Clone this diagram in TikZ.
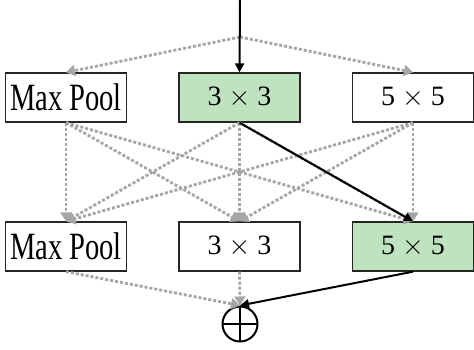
\RequirePackage{fix-cm}
\documentclass[tikz,border=0pt]{standalone}
\usepackage{fontspec}
\setmainfont{Liberation Serif}
\usetikzlibrary{arrows.meta}
\newcommand{\poolname}{\raisebox{-4pt}{\scalebox{1.02}[1.38]{Max Pool}}}
\begin{document}
\begin{tikzpicture}[x=1pt,y=-1pt,
  op/.style={draw=black!85,line width=1.3pt,minimum width=121pt,minimum height=49pt,
    inner sep=0pt,font=\fontsize{28}{28}\selectfont},
  chosen/.style={op,fill=green!55!black!25!white},
  cand/.style={draw=black!35,line width=2.8pt,dash pattern=on 3pt off 2pt,
    -{Triangle[length=9pt,width=11pt,fill=black!35]}},
  path/.style={draw=black,line width=2pt,-{Triangle[length=9pt,width=9pt]}}]
\useasboundingbox (0,0) rectangle (474,349);
\fill[white] (0,0) rectangle (474,349);
% first layer
\node[op]     (p1) at (66,97.5)  {\poolname};
\node[chosen] (c1) at (239.5,97.5) {3 $\times$ 3};
\node[op]     (f1) at (413,97.5) {5 $\times$ 5};
% second layer
\node[op]     (p2) at (66,246.5)  {\poolname};
\node[op]     (c2) at (239.5,246.5) {3 $\times$ 3};
\node[chosen] (f2) at (413,246.5) {5 $\times$ 5};
% sum
\node[circle,draw=black,line width=2pt,minimum size=35pt,inner sep=0pt,
  path picture={\draw[line width=2pt] (path picture bounding box.north) -- (path picture bounding box.south)
    (path picture bounding box.west) -- (path picture bounding box.east);}] (sum) at (240,324) {};
\coordinate (in) at (240,0);
\coordinate (split) at (240,37);
% candidate edges
\draw[cand] (split) -- (p1.north);
\draw[cand] (split) -- (f1.north);
\foreach \a in {p1,c1,f1}{
  \foreach \b in {p2,c2,f2}{
    \draw[cand] (\a.south) -- (\b.north);
  }
}
\draw[cand] (p2.south) -- (sum.north);
\draw[cand] (c2.south) -- (sum.north);
% selected path
\draw[path] (in) -- (c1.north);
\draw[path] (c1.south) -- (f2.north);
\draw[path] (f2.south) -- (sum.north);
\end{tikzpicture}
\end{document}
